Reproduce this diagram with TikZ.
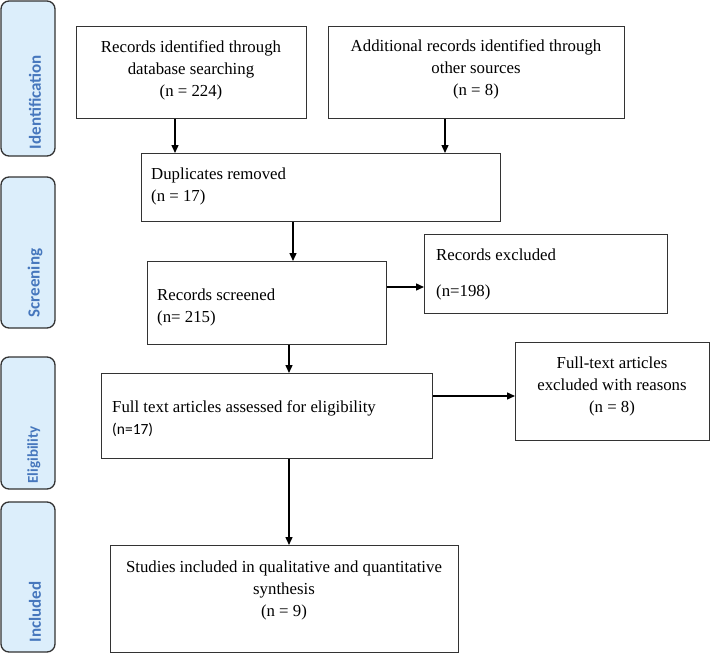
\documentclass[tikz,border=0pt]{standalone}
\usepackage{fontspec}
\setmainfont{Liberation Serif}
\newfontfamily\calibri{Carlito}
\usetikzlibrary{arrows.meta}
\definecolor{barfill}{HTML}{DCEEFB}
\definecolor{bartext}{HTML}{4677BD}
\definecolor{edge}{HTML}{333333}
\begin{document}
\begin{tikzpicture}[x=1pt,y=-1pt,
  box/.style={draw=edge, line width=1.3pt, inner sep=0pt, anchor=north west},
  bar/.style={draw=edge, fill=barfill, line width=1.3pt, rounded corners=8pt},
  sidelabel/.style={rotate=90, text=bartext, font=\calibri\bfseries\fontsize{17}{18}\selectfont, inner sep=0pt},
  txt/.style={font=\fontsize{16.8}{22}\selectfont, inner sep=0pt},
  arr/.style={-{Triangle[length=8pt,width=7pt]}, line width=1.4pt, draw=black}
]
\path[use as bounding box, fill=white] (0,0) rectangle (710,653);

% side bars
\draw[bar] (1,1) rectangle (55,156);
\draw[bar] (1,177) rectangle (55,328);
\draw[bar] (1,357) rectangle (55,489);
\draw[bar] (1,502) rectangle (55,652);
\node[sidelabel] (lid) at (35,102) {Identification};
\node[sidelabel] (lsc) at (35,283) {Screening};
\node[sidelabel, font=\calibri\bfseries\fontsize{15}{16}\selectfont] (lel) at (34,455) {Eligibility};
\node[sidelabel] (lin) at (35,612) {Included};

% boxes
\node[box, minimum width=230, minimum height=92] (b1) at (76,26) {};
\node[box, minimum width=296, minimum height=92] (b2) at (328,26) {};
\node[box, minimum width=359, minimum height=68] (dup) at (141,153) {};
\node[box, minimum width=239, minimum height=83] (scr) at (147,261) {};
\node[box, minimum width=243, minimum height=79] (exc) at (424,234) {};
\node[box, minimum width=331, minimum height=85] (ft) at (101,373) {};
\node[box, minimum width=194, minimum height=98] (fte) at (515,342) {};
\node[box, minimum width=348, minimum height=107] (st) at (110,545) {};

% texts
\node[txt, align=center] (t1) at (191,70) {Records identified through\\database searching\\(n = 224)};
\node[txt, align=center] (t2) at (476,69) {Additional records identified through\\other sources\\(n = 8)};
\node[txt, align=left, anchor=west] (tdup) at (151,186) {Duplicates removed\\(n = 17)};
\node[txt, align=left, anchor=west] (tscr) at (157,307) {Records screened\\(n= 215)};
\node[txt, align=left, anchor=west] (texc) at (436,274) {Records excluded\\[14pt](n=198)};
\node[txt, align=left, anchor=west] (tft) at (112,419) {Full text articles assessed for eligibility\\{\calibri\fontsize{15.5}{16}\selectfont (n=17)}};
\node[txt, align=center] (tfe) at (612,386) {Full-text articles\\excluded with reasons\\(n = 8)};
\node[txt, align=center] (tst) at (284,590) {Studies included in qualitative and quantitative\\synthesis\\(n = 9)};

% arrow guide coordinates
\coordinate (xa) at (175,0);
\coordinate (xb) at (445,0);
\coordinate (xc) at (293,0);
\coordinate (xd) at (289,0);
\coordinate (ya) at (0,287);
\coordinate (yb) at (0,396);

% connectors
\draw[arr] (b1.south -| xa) -- (dup.north -| xa);
\draw[arr] (b2.south -| xb) -- (dup.north -| xb);
\draw[arr] (dup.south -| xc) -- (scr.north -| xc);
\draw[arr] (scr.east |- ya) -- (exc.west |- ya);
\draw[arr] (scr.south -| xd) -- (ft.north -| xd);
\draw[arr] (ft.east |- yb) -- (fte.west |- yb);
\draw[arr] (ft.south -| xd) -- (st.north -| xd);
\end{tikzpicture}
\end{document}
